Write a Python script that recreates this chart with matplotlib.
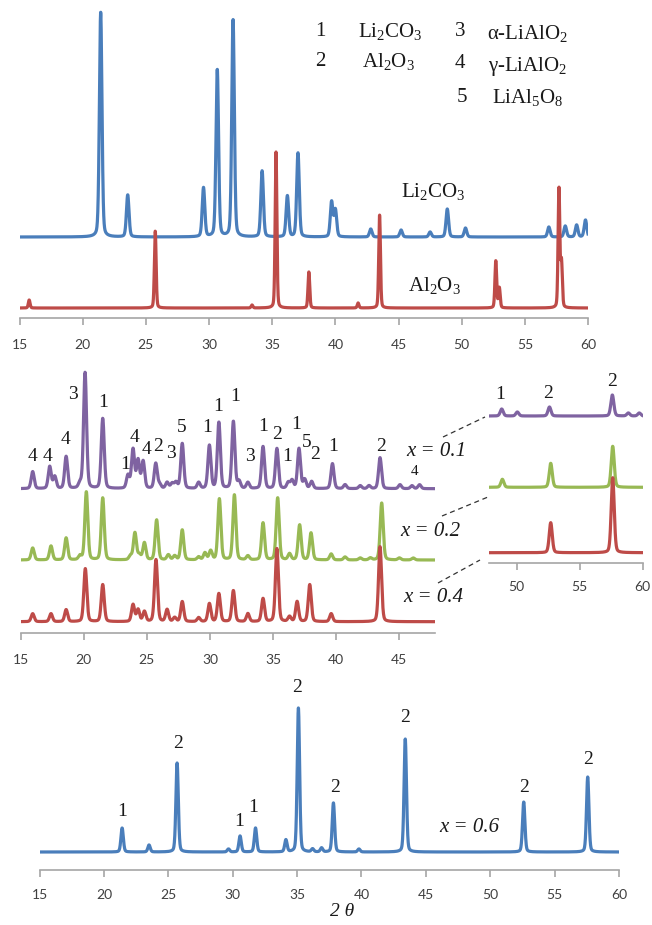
import numpy as np
import matplotlib.pyplot as plt

plt.rcParams['mathtext.fontset'] = 'custom'
plt.rcParams['mathtext.rm'] = 'Liberation Serif'
plt.rcParams['mathtext.it'] = 'Liberation Serif:italic'

# ---- data (2theta in deg, intensity in px) ----
# reference patterns
li2co3_pos = [21.42, 23.56, 29.56, 30.65, 31.9, 34.2, 36.2, 37.04, 39.7, 40.0,
              42.8, 45.2, 47.5, 48.86, 50.3, 56.9, 58.2, 59.1, 59.8]
li2co3_int = [225, 42, 49, 167, 217, 66, 41, 84, 35, 27,
              8, 7, 5, 28, 9, 10, 11, 12, 17]
al2o3_pos = [15.76, 25.74, 33.4, 35.3, 37.9, 41.8, 43.5, 52.7, 52.98, 57.7, 57.9]
al2o3_int = [8, 77, 3, 156, 36, 5, 93, 47, 20, 119, 45]

# x = 0.1, 0.2, 0.4 (15-47.5 deg)
x01_pos = [15.95, 17.3, 17.7, 18.6, 19.7, 20.1, 21.5, 23.5, 23.9, 24.3, 24.7,
           25.7, 26.0, 26.6, 27.0, 27.3, 27.8, 29.1, 29.95, 30.7, 31.85, 32.3,
           33.0, 34.2, 35.3, 36.2, 36.5, 37.05, 37.5, 38.05, 39.7, 40.7, 41.9,
           42.6, 43.47, 45.05, 46.0, 46.6]
x01_int = [17, 22, 12, 32, 5, 116, 70, 13, 39, 28, 27,
           25, 4, 6, 5, 6, 45, 6, 43, 66, 67, 7,
           6, 42, 40, 6, 8, 40, 9, 7, 25, 4, 3,
           3, 31, 4, 3, 4]
x02_pos = [15.95, 17.4, 18.6, 19.7, 20.2, 21.5, 23.7, 24.05, 24.4, 24.8, 25.77,
           26.7, 27.2, 27.8, 29.1, 29.6, 30.05, 30.74, 31.93, 33.0, 34.2, 35.36,
           36.3, 37.1, 38.0, 39.6, 40.7, 41.9, 42.7, 43.6, 45.0, 46.1]
x02_int = [12, 14, 22, 4, 68, 62, 4, 27, 5, 17, 40,
           5, 4, 30, 3, 7, 9, 61, 65, 4, 37, 62,
           6, 35, 27, 6, 3, 2, 2, 57, 2, 2]
x04_pos = [15.95, 17.4, 18.6, 20.12, 21.5, 23.9, 24.3, 24.8, 25.72, 26.6, 27.2,
           27.8, 29.1, 29.95, 30.7, 31.85, 33.0, 34.2, 35.3, 36.3, 36.9, 37.9,
           39.6, 43.47]
x04_int = [8, 8, 12, 53, 37, 17, 12, 10, 62, 12, 4,
           20, 4, 18, 28, 31, 8, 23, 73, 5, 20, 37,
           8, 75]

# insets, 48-60 deg
x01_hi_pos = [48.81, 50.05, 52.6, 57.59, 58.86, 59.73]
x01_hi_int = [7, 4, 9, 21, 3, 3]
x02_hi_pos = [48.86, 52.7, 57.62]
x02_hi_int = [8, 24, 41]
x04_hi_pos = [52.7, 57.62]
x04_hi_int = [30, 75]

# x = 0.6
x06_pos = [21.41, 23.5, 25.68, 29.67, 30.57, 31.77, 34.13, 35.1, 36.2, 36.9,
           37.82, 39.8, 43.4, 52.6, 57.57]
x06_int = [24, 7, 89, 3, 16, 24, 12, 144, 3, 4, 49, 3, 113, 50, 75]

# phase labels (text, 2theta, height)
mid_lbl = ['4', '4', '4', '3', '1', '1', '4', '4', '2', '3', '5', '1', '1', '1',
           '3', '1', '2', '1', '1', '5', '2', '1', '2']
mid_lbl_x = [15.97, 17.16, 18.51, 19.14, 21.52, 23.27, 23.98, 24.93, 25.88,
             26.91, 27.78, 29.76, 30.63, 31.98, 33.17, 34.2, 35.31, 36.1, 36.82,
             37.68, 38.32, 39.75, 43.56]
mid_lbl_y = [176, 176, 193, 238, 230, 168, 195, 183, 186, 179, 205, 205, 226,
             236, 176, 206, 198, 176, 208, 190, 178, 186, 186]
hi_lbl = ['1', '2', '2']
hi_lbl_x = [48.68, 52.5, 57.56]
hi_lbl_y = [168, 169, 181]
bot_lbl = ['1', '2', '1', '1', '2', '2', '2', '2', '2']
bot_lbl_x = [21.4, 25.75, 30.49, 31.58, 35.0, 37.95, 43.39, 52.63, 57.6]
bot_lbl_y = [58, 127, 48, 62, 182, 83, 152, 83, 111]

BLUE = '#4a7ebb'
RED = '#be4b48'
GREEN = '#98b954'
PURPLE = '#7f63a1'
TICKC = '#404040'
SERIF = 'Liberation Serif'

W, H = 652, 925


def box(left, right, top, bottom):
    return [left / W, 1 - bottom / H, (right - left) / W, (bottom - top) / H]


def pattern(tt, pos, inten, fwhm):
    y = np.zeros_like(tt)
    for p, h in zip(pos, inten):
        g = np.exp(-4 * np.log(2) * ((tt - p) / fwhm) ** 2)
        l = 1 / (1 + ((tt - p) / (fwhm / 2)) ** 2)
        y += h * (0.75 * g + 0.25 * l)
    return y


def style(ax, lo, hi, ticks):
    ax.set_xlim(lo, hi)
    for s in ['top', 'left', 'right']:
        ax.spines[s].set_visible(False)
    ax.spines['bottom'].set_color('#a6a6a6')
    ax.spines['bottom'].set_linewidth(1.2)
    ax.set_yticks([])
    ax.set_xticks(ticks)
    ax.tick_params(axis='x', direction='out', length=5, width=1.2,
                   color='#a6a6a6', labelcolor=TICKC, labelsize=10, pad=10)
    for t in ax.get_xticklabels():
        t.set_fontfamily('Lato')
    ax.patch.set_alpha(0)


fig = plt.figure(figsize=(W / 100, H / 100), dpi=100)
LW = 2.3

# ---------------- top panel ----------------
ax1 = fig.add_axes(box(19.6, 588, 0, 318))
tt = np.linspace(15, 60, 4000)
ax1.plot(tt, 81 + pattern(tt, li2co3_pos, li2co3_int, 0.24), color=BLUE, lw=LW)
ax1.plot(tt, 10 + pattern(tt, al2o3_pos, al2o3_int, 0.16), color=RED, lw=LW)
ax1.set_ylim(0, 318)
style(ax1, 15, 60, range(15, 61, 5))

leg = [(320, 32, '1'), (390, 32, 'Li$_2$CO$_3$'), (460, 32, '3'),
       (528, 34, 'α-LiAlO$_2$'), (320, 62, '2'), (388, 62, 'Al$_2$O$_3$'),
       (460, 64, '4'), (528, 66, 'γ-LiAlO$_2$'), (462, 98, '5'),
       (528, 98, 'LiAl$_5$O$_8$'), (433, 192, 'Li$_2$CO$_3$'),
       (434, 285, 'Al$_2$O$_3$')]
for px, py, s in leg:
    fig.text(px / W, 1 - py / H, s, fontsize=15, family=SERIF,
             ha='center', va='center', color='#1a1a1a')

# ---------------- middle panel ----------------
ax2 = fig.add_axes(box(20.7, 434.7, 360, 632.7))
tt = np.linspace(15, 47.8, 3000)
ax2.plot(tt, 144 + pattern(tt, x01_pos, x01_int, 0.28), color=PURPLE, lw=LW)
ax2.plot(tt, 72.7 + pattern(tt, x02_pos, x02_int, 0.28), color=GREEN, lw=LW)
ax2.plot(tt, 11 + pattern(tt, x04_pos, x04_int, 0.28), color=RED, lw=LW)
ax2.set_ylim(0, 272.7)
style(ax2, 15, 47.8, range(15, 46, 5))
for s, x, y in zip(mid_lbl, mid_lbl_x, mid_lbl_y):
    ax2.text(x, y, s, fontsize=14, family=SERIF, ha='center', va='center',
             color='#1a1a1a')
ax2.text(46.17, 161, '4', fontsize=11, family=SERIF, ha='center', va='center',
         color='#1a1a1a')

# inset 48-60
ax3 = fig.add_axes(box(489, 642.7, 365, 562.7))
tt = np.linspace(47.8, 60, 1500)
ax3.plot(tt, 146.7 + pattern(tt, x01_hi_pos, x01_hi_int, 0.28), color=PURPLE, lw=LW)
ax3.plot(tt, 75.4 + pattern(tt, x02_hi_pos, x02_hi_int, 0.28), color=GREEN, lw=LW)
ax3.plot(tt, 10 + pattern(tt, x04_hi_pos, x04_hi_int, 0.28), color=RED, lw=LW)
ax3.set_ylim(0, 197.7)
style(ax3, 47.8, 60, range(50, 61, 5))
ax3.tick_params(axis='x', pad=8)
for s, x, y in zip(hi_lbl, hi_lbl_x, hi_lbl_y):
    ax3.text(x, y, s, fontsize=14, family=SERIF, ha='center', va='center',
             color='#1a1a1a')

for px, py, s in [(436, 452, 'x = 0.1'), (430, 532, 'x = 0.2'),
                  (433, 597, 'x = 0.4')]:
    fig.text(px / W, 1 - py / H, s, fontsize=15, family=SERIF, style='italic',
             ha='center', va='center', color='#1a1a1a')
for x0, y0, x1, y1 in [(443, 437, 485, 417), (442, 516, 488, 497),
                       (438, 583, 480, 560)]:
    fig.add_artist(plt.Line2D([x0 / W, x1 / W], [1 - y0 / H, 1 - y1 / H],
                              color='#333333', lw=0.9, ls=(0, (4, 3))))

# ---------------- bottom panel ----------------
ax4 = fig.add_axes(box(39.6, 619, 680, 870))
tt = np.linspace(15, 60, 4000)
ax4.plot(tt, 18 + pattern(tt, x06_pos, x06_int, 0.22), color=BLUE, lw=LW)
ax4.set_ylim(0, 190)
style(ax4, 15, 60, range(15, 61, 5))
ax4.tick_params(axis='x', pad=9)
for s, x, y in zip(bot_lbl, bot_lbl_x, bot_lbl_y):
    ax4.text(x, y, s, fontsize=14, family=SERIF, ha='center', va='center',
             color='#1a1a1a')
ax4.text(48.37, 43, 'x = 0.6', fontsize=15, family=SERIF, style='italic',
         ha='center', va='center', color='#1a1a1a')
fig.text(342 / W, 1 - 911 / H, '2 θ', fontsize=14, family=SERIF,
         style='italic', ha='center', va='center', color='#1a1a1a')

fig.savefig('out.png', dpi=100)
